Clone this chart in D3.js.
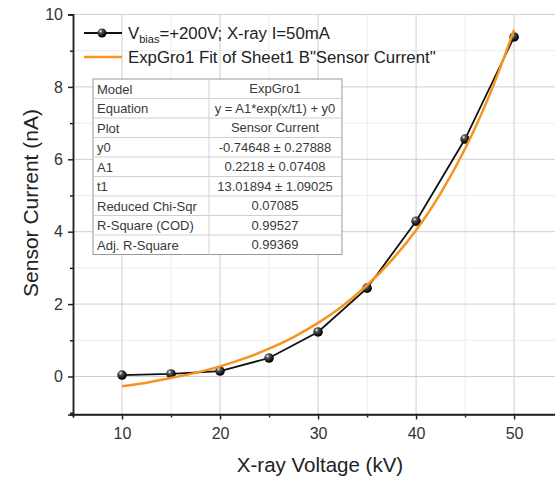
<!DOCTYPE html>
<html>
<head>
<meta charset="utf-8">
<script src="https://cdn.jsdelivr.net/npm/d3@7"></script>
<style>
  body { margin: 0; background: #fff; }
  svg { display: block; font-family: "Liberation Sans", Arial, sans-serif; }
</style>
</head>
<body>
<div id="chart"></div>
<script>
// measured data
var voltage = [10, 15, 20, 25, 30, 35, 40, 45, 50];
var current = [0.04, 0.07, 0.15, 0.51, 1.23, 2.44, 4.29, 6.56, 9.38];

// fitted curve
var fitX = [10, 12.5, 15, 17.5, 20, 22.5, 25, 27.5, 30, 32.5, 35, 37.5, 40, 42.5, 45, 47.5, 50];
var fitY = [-0.27, -0.17, -0.04, 0.10, 0.28, 0.50, 0.77, 1.09, 1.48, 1.95, 2.52, 3.21, 4.04, 5.06, 6.29, 7.78, 9.58];

var xTicks = [10, 20, 30, 40, 50];
var xMinor = [5, 15, 25, 35, 45];
var yTicks = [0, 2, 4, 6, 8, 10];
var yMinor = [-1, 1, 3, 5, 7, 9];

var legendLabels = ["=+200V; X-ray I=50mA", "ExpGro1 Fit of Sheet1 B\"Sensor Current\""];

var tableNames = ["Model", "Equation", "Plot", "y0", "A1", "t1", "Reduced Chi-Sqr", "R-Square (COD)", "Adj. R-Square"];
var tableValues = ["ExpGro1", "y = A1*exp(x/t1) + y0", "Sensor Current", "-0.74648 \u00b1 0.27888",
  "0.2218 \u00b1 0.07408", "13.01894 \u00b1 1.09025", "0.07085", "0.99527", "0.99369"];

var W = 555, H = 480;
var margin = {top: 14.5, left: 73, bottom: 65.5, right: -13};
var width = W - margin.left - margin.right,
    height = H - margin.top - margin.bottom;

var svg = d3.select("#chart").append("svg")
  .attr("width", W).attr("height", H);

var defs = svg.append("defs");
var grad = defs.append("radialGradient").attr("id", "ball")
  .attr("cx", "35%").attr("cy", "30%").attr("r", "65%");
grad.append("stop").attr("offset", "0%").attr("stop-color", "#ffffff");
grad.append("stop").attr("offset", "30%").attr("stop-color", "#555");
grad.append("stop").attr("offset", "100%").attr("stop-color", "#000");

var g = svg.append("g").attr("transform", "translate(" + margin.left + "," + margin.top + ")");

var x = d3.scaleLinear().domain([5, 55.5]).range([0, width]);
var y = d3.scaleLinear().domain([-1.05, 10]).range([height, 0]);

// grid
g.append("g").selectAll("line").data(xMinor.slice(1)).enter().append("line")
  .attr("x1", d => x(d)).attr("x2", d => x(d)).attr("y1", 0).attr("y2", height)
  .attr("stroke", "#ececec").attr("stroke-width", 1);
g.append("g").selectAll("line").data(yMinor.slice(1)).enter().append("line")
  .attr("y1", d => y(d)).attr("y2", d => y(d)).attr("x1", 0).attr("x2", width)
  .attr("stroke", "#ececec").attr("stroke-width", 1);
g.append("g").selectAll("line").data(xTicks).enter().append("line")
  .attr("x1", d => x(d)).attr("x2", d => x(d)).attr("y1", 0).attr("y2", height)
  .attr("stroke", "#cfcfcf").attr("stroke-width", 1);
g.append("g").selectAll("line").data(yTicks).enter().append("line")
  .attr("y1", d => y(d)).attr("y2", d => y(d)).attr("x1", 0).attr("x2", width)
  .attr("stroke", "#cfcfcf").attr("stroke-width", 1);

// axes
var xAxis = g.append("g").attr("transform", "translate(0," + height + ")")
  .call(d3.axisBottom(x).tickValues(xTicks).tickSize(5).tickPadding(8).tickFormat(d3.format("d")));
var xAxisMinor = g.append("g").attr("transform", "translate(0," + height + ")")
  .call(d3.axisBottom(x).tickValues(xMinor).tickSize(3).tickFormat(""));
var yAxis = g.append("g")
  .call(d3.axisLeft(y).tickValues(yTicks).tickSize(5).tickPadding(5).tickFormat(d3.format("d")));
var yAxisMinor = g.append("g")
  .call(d3.axisLeft(y).tickValues(yMinor).tickSize(3).tickFormat(""));

[xAxis, xAxisMinor, yAxis, yAxisMinor].forEach(function(a) {
  a.select(".domain").attr("stroke", "#222").attr("stroke-width", 1.5);
  a.selectAll(".tick line").attr("stroke", "#222").attr("stroke-width", 1.5);
  a.selectAll("text").style("font-size", "16px").attr("fill", "#333")
    .style("font-family", "'Liberation Sans', Arial, sans-serif");
});
xAxis.select(".domain").attr("d", "M-2,0H" + width);

// axis titles
svg.append("text")
  .attr("transform", "translate(38,203) rotate(-90)")
  .attr("text-anchor", "middle").style("font-size", "21px").attr("fill", "#222")
  .text("Sensor Current (nA)");
svg.append("text")
  .attr("x", 320).attr("y", 472)
  .attr("text-anchor", "middle").style("font-size", "20.5px").attr("fill", "#222")
  .text("X-ray Voltage (kV)");

// table
var rowH = 19.5;
var tbl = svg.append("g").attr("transform", "translate(93,79)");
tbl.append("rect").attr("width", 249).attr("height", rowH * tableNames.length)
  .attr("fill", "#fff").attr("stroke", "#999").attr("stroke-width", 1);
tbl.selectAll(".rowline").data(tableNames.slice(1)).enter().append("line")
  .attr("x1", 0).attr("x2", 249)
  .attr("y1", (d, i) => (i + 1) * rowH).attr("y2", (d, i) => (i + 1) * rowH)
  .attr("stroke", "#d0d0d0");
tbl.append("line").attr("x1", 116).attr("x2", 116).attr("y1", 0).attr("y2", rowH * tableNames.length)
  .attr("stroke", "#d0d0d0");
tbl.selectAll(".name").data(tableNames).enter().append("text")
  .attr("x", 4).attr("y", (d, i) => i * rowH + 14.5)
  .style("font-size", "13px").attr("fill", "#3a3a3a").text(d => d);
tbl.selectAll(".val").data(tableValues).enter().append("text")
  .attr("x", 182).attr("y", (d, i) => i * rowH + 14)
  .attr("text-anchor", "middle")
  .style("font-size", "13px").attr("fill", "#3a3a3a").text(d => d);

// data lines
var pts = voltage.map((v, i) => [v, current[i]]);
var fit = fitX.map((v, i) => [v, fitY[i]]);

g.append("path").datum(pts)
  .attr("fill", "none").attr("stroke", "#111").attr("stroke-width", 1.8)
  .attr("d", d3.line().x(d => x(d[0])).y(d => y(d[1])));

g.selectAll(".pt").data(pts).enter().append("circle")
  .attr("cx", d => x(d[0])).attr("cy", d => y(d[1])).attr("r", 4.8)
  .attr("fill", "url(#ball)");

g.append("path").datum(fit)
  .attr("fill", "none").attr("stroke", "#f7941d").attr("stroke-width", 2.5)
  .attr("d", d3.line().curve(d3.curveCatmullRom).x(d => x(d[0])).y(d => y(d[1])));

// legend
var lg = svg.append("g");
lg.append("line").attr("x1", 84).attr("x2", 122).attr("y1", 33).attr("y2", 33)
  .attr("stroke", "#111").attr("stroke-width", 1.8);
lg.append("circle").attr("cx", 102).attr("cy", 33).attr("r", 4.5).attr("fill", "url(#ball)");
var t1 = lg.append("text").attr("x", 128).attr("y", 39).style("font-size", "16.8px").attr("fill", "#222");
t1.append("tspan").text("V");
t1.append("tspan").attr("dy", 4).style("font-size", "11px").text("bias");
t1.append("tspan").attr("dy", -4).text(legendLabels[0]);
lg.append("line").attr("x1", 84).attr("x2", 122).attr("y1", 57).attr("y2", 57)
  .attr("stroke", "#f7941d").attr("stroke-width", 2.5);
lg.append("text").attr("x", 128).attr("y", 63).style("font-size", "16.8px").attr("fill", "#222")
  .text(legendLabels[1]);
</script>
</body>
</html>
